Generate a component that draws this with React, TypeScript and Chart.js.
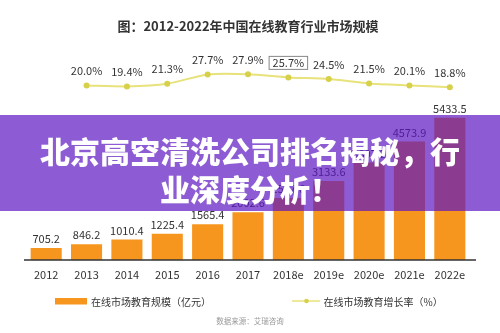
import { useEffect, useRef } from "react";
import { Chart, registerables } from "chart.js";

Chart.register(...registerables);

const categories = ["2012", "2013", "2014", "2015", "2016", "2017", "2018e", "2019e", "2020e", "2021e", "2022e"];
const marketSize = [705.2, 846.2, 1010.4, 1225.4, 1565.4, 2002.6, 2517.6, 3133.6, 3807.2, 4573.9, 5433.5];
const growthRate: (number | null)[] = [null, 20.0, 19.4, 21.3, 27.7, 27.9, 25.7, 24.5, 21.5, 20.1, 18.8];
const highlightedIndex = 6;
const titleText = "图：2012-2022年中国在线教育行业市场规模";
const legendLabels = ["在线市场教育规模（亿元）", "在线市场教育增长率（%）"];
const sourceText = "数据来源：艾瑞咨询";
const bannerLines = ["北京高空清洗公司排名揭秘，行", "业深度分析！"];

const FONT = '"Noto Sans CJK SC", "Noto Sans", sans-serif';
const BAR_COLOR = "#F7961F";
const LINE_COLOR = "#E8E27A";
const POINT_COLOR = "#D6D04A";

const overlayPlugin = {
  id: "overlayLabels",
  afterDatasetsDraw(chart: any) {
    const ctx = chart.ctx as CanvasRenderingContext2D;
    const { left, right, bottom } = chart.chartArea;
    ctx.save();
    // baseline
    ctx.strokeStyle = "#333";
    ctx.lineWidth = 1.5;
    ctx.beginPath();
    ctx.moveTo(left - 2, bottom);
    ctx.lineTo(right + 6, bottom);
    ctx.stroke();

    // bar value labels
    ctx.font = `11px ${FONT}`;
    ctx.fillStyle = "#333";
    ctx.textAlign = "center";
    ctx.textBaseline = "middle";
    const barMeta = chart.getDatasetMeta(0);
    barMeta.data.forEach((el: any, i: number) => {
      ctx.fillText(marketSize[i].toFixed(1), el.x, el.y - 9);
    });

    // growth labels
    const lineMeta = chart.getDatasetMeta(1);
    lineMeta.data.forEach((el: any, i: number) => {
      const v = growthRate[i];
      if (v == null) return;
      const t = v.toFixed(1) + "%";
      const ty = el.y - 14.5;
      ctx.fillStyle = "#333";
      ctx.fillText(t, el.x, ty);
      if (i === highlightedIndex) {
        const w = ctx.measureText(t).width;
        ctx.strokeStyle = "#888";
        ctx.lineWidth = 1;
        ctx.strokeRect(el.x - w / 2 - 3.5, ty - 6.5, w + 7, 13);
      }
    });

    // legend
    ctx.fillStyle = BAR_COLOR;
    ctx.fillRect(55, 298, 32, 6.5);
    ctx.font = `10px ${FONT}`;
    ctx.textAlign = "left";
    ctx.fillStyle = "#333";
    ctx.fillText(legendLabels[0], 91, 302);

    ctx.strokeStyle = LINE_COLOR;
    ctx.lineWidth = 1.5;
    ctx.beginPath();
    ctx.moveTo(292, 301);
    ctx.lineTo(320, 301);
    ctx.stroke();
    ctx.fillStyle = POINT_COLOR;
    ctx.beginPath();
    ctx.arc(306.5, 301, 2.3, 0, Math.PI * 2);
    ctx.fill();
    ctx.fillStyle = "#333";
    ctx.fillText(legendLabels[1], 323.5, 302);

    // source
    ctx.font = `7.5px ${FONT}`;
    ctx.fillStyle = "#999";
    ctx.textAlign = "center";
    ctx.fillText(sourceText, 250, 321);
    ctx.restore();
  },
};

export default function App() {
  const canvasRef = useRef<HTMLCanvasElement | null>(null);

  useEffect(() => {
    document.body.style.margin = "0";
    const canvas = canvasRef.current;
    if (!canvas) return;
    const chart = new Chart(canvas, {
      type: "bar",
      data: {
        labels: categories,
        datasets: [
          {
            type: "bar",
            label: legendLabels[0],
            data: marketSize,
            backgroundColor: BAR_COLOR,
            yAxisID: "yBar",
            barPercentage: 0.77,
            categoryPercentage: 1,
            order: 2,
          },
          {
            type: "line",
            label: legendLabels[1],
            data: growthRate,
            borderColor: LINE_COLOR,
            borderWidth: 2,
            backgroundColor: POINT_COLOR,
            pointBackgroundColor: POINT_COLOR,
            pointBorderWidth: 0,
            pointRadius: 3,
            tension: 0.2,
            yAxisID: "yLine",
            order: 1,
          } as any,
        ],
      },
      options: {
        responsive: false,
        animation: false,
        layout: { padding: { top: 0, left: 26, right: 30, bottom: 53 } },
        plugins: {
          legend: { display: false },
          tooltip: { enabled: false },
          title: {
            display: true,
            text: titleText,
            color: "#333",
            font: { family: FONT, size: 13, weight: "bold" },
            padding: { top: 18, bottom: 6 },
          },
        },
        scales: {
          x: {
            grid: { display: false, drawTicks: false },
            border: { display: false },
            ticks: { color: "#333", font: { family: FONT, size: 11 }, padding: 8 },
            afterFit: (scale: any) => {
              scale.height = 20;
            },
          },
          yBar: { display: false, min: 270, max: 8270 },
          yLine: { display: false, min: -101.9, max: 52.1 },
        },
      },
      plugins: [overlayPlugin],
    });
    return () => chart.destroy();
  }, []);

  return (
    <div style={{ position: "relative", width: 500, height: 333, background: "#fff", overflow: "hidden" }}>
      <canvas ref={canvasRef} width={500} height={333} style={{ display: "block" }} />
      <div
        style={{
          position: "absolute",
          left: 0,
          top: 115,
          width: 500,
          height: 96,
          boxSizing: "border-box",
          paddingTop: 16,
          background: "rgba(92, 21, 192, 0.7)",
          color: "#fff",
          fontFamily: FONT,
          fontWeight: 900,
          fontSize: 30,
          lineHeight: "38px",
          textAlign: "center",
        }}
      >
        {bannerLines.map((l, i) => (
          <div key={i}>{l}</div>
        ))}
      </div>
    </div>
  );
}
